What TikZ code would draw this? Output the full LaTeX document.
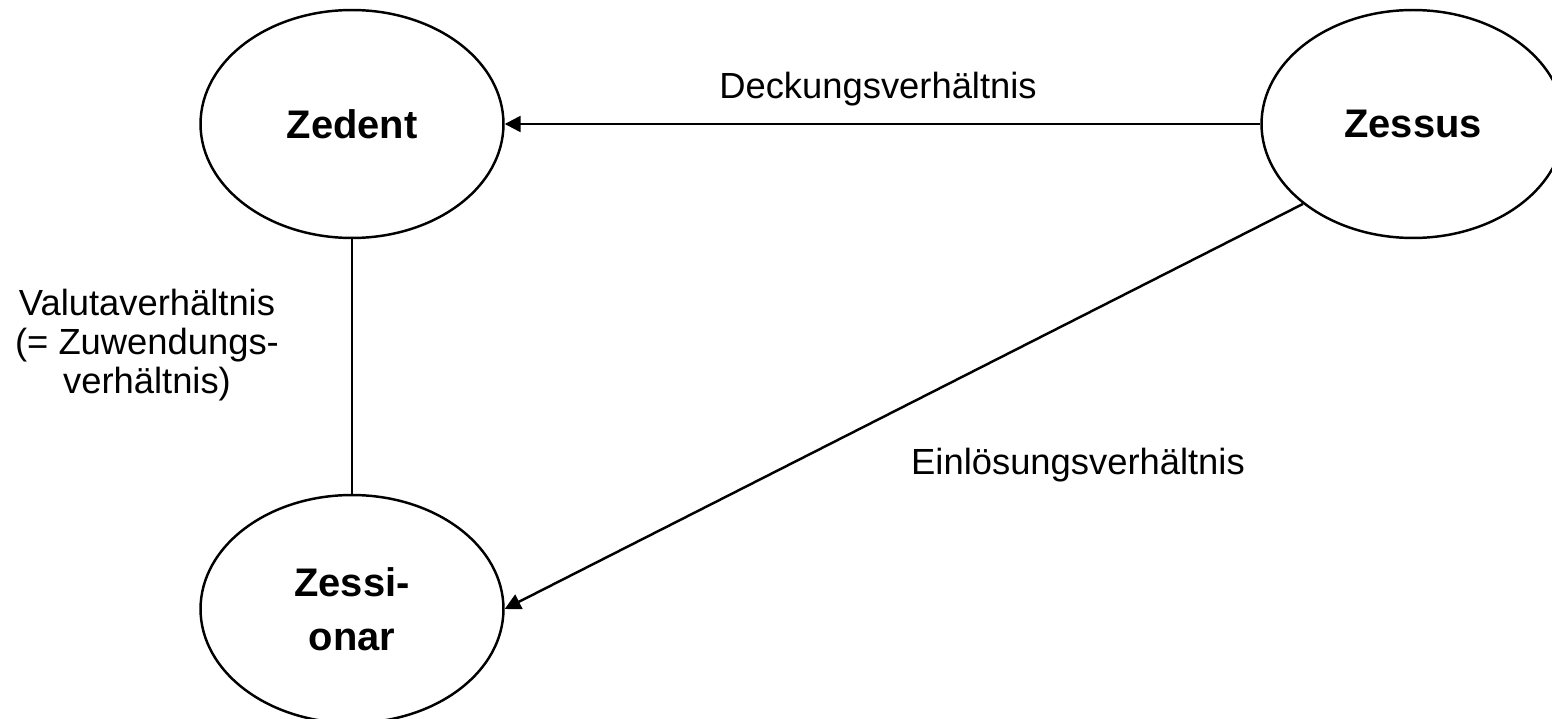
\documentclass[tikz,border=0pt]{standalone}
\usepackage{fontspec}
\setmainfont{Liberation Sans}
\usepackage{tikz}
\usetikzlibrary{arrows.meta, positioning, shapes.geometric}

\tikzset{
    party/.style={draw, ellipse, line width=1.4pt, minimum width=6.06cm, minimum height=4.56cm,
        align=center, font=\fontsize{22.7}{30.7}\selectfont\bfseries},
    rel/.style={align=center, font=\fontsize{20.7}{22.4}\selectfont},
    link/.style={line width=1.4pt},
    arrow/.style={line width=1.4pt, -{Triangle[length=0.32cm, width=0.32cm]}}
}

\begin{document}
\begin{tikzpicture}[x=0.02cm, y=-0.02cm]
    \useasboundingbox (0,0) rectangle (1552,719);

    % Parties
    \node[party] (zedent) at (352,124) {Zedent};
    \node[party] (zessus) at (1413,124) {Zessus};
    \node[party] (zessionar) at (352,609) {Zessi-\\onar};

    % Relations
    \draw[arrow] (zessus) -- (zedent);
    \draw[link] (zedent) -- (zessionar);
    \draw[arrow] (zessus.216) -- (zessionar.east);

    % Labels
    \node[rel] (deckung) at (878,89) {Deckungsverhältnis};
    \node[rel] (valuta) at (147,345) {Valutaverhältnis\\(= Zuwendungs-\\verhältnis)};
    \node[rel] (einloesung) at (1078,465) {Einlösungsverhältnis};
\end{tikzpicture}
\end{document}
